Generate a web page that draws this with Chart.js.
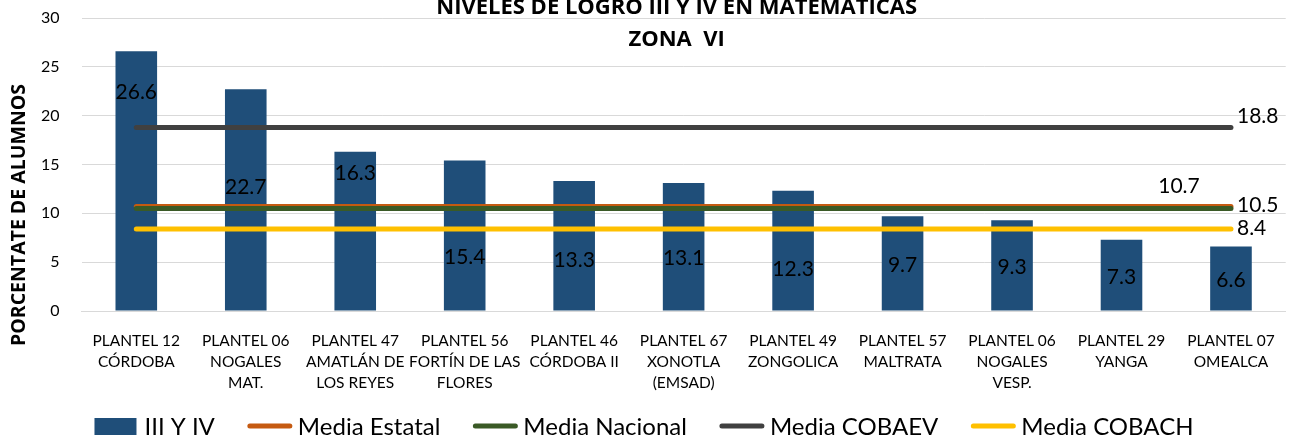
<!DOCTYPE html>
<html>
<head>
<meta charset="utf-8">
<script src="https://cdn.jsdelivr.net/npm/chart.js@4/dist/chart.umd.min.js"></script>
<style>
  html, body { margin: 0; padding: 0; background: #fff; }
  #wrap { width: 1294px; height: 439px; position: relative; }
</style>
</head>
<body>
<div id="wrap"><canvas id="chart"></canvas></div>
<script>
const FONT = "Lato, 'Open Sans', sans-serif";
const BOLD_FONT = "'Open Sans', Lato, sans-serif";

// Data
const planteles = [
  ['PLANTEL 12', 'CÓRDOBA'],
  ['PLANTEL 06', 'NOGALES', 'MAT.'],
  ['PLANTEL 47', 'AMATLÁN DE', 'LOS REYES'],
  ['PLANTEL 56', 'FORTÍN DE LAS', 'FLORES'],
  ['PLANTEL 46', 'CÓRDOBA II'],
  ['PLANTEL 67', 'XONOTLA', '(EMSAD)'],
  ['PLANTEL 49', 'ZONGOLICA'],
  ['PLANTEL 57', 'MALTRATA'],
  ['PLANTEL 06', 'NOGALES', 'VESP.'],
  ['PLANTEL 29', 'YANGA'],
  ['PLANTEL 07', 'OMEALCA'],
];
const nivelesIIIyIV = [26.6, 22.7, 16.3, 15.4, 13.3, 13.1, 12.3, 9.7, 9.3, 7.3, 6.6];
const mediaEstatal  = [10.7, 10.7, 10.7, 10.7, 10.7, 10.7, 10.7, 10.7, 10.7, 10.7, 10.7];
const mediaNacional = [10.5, 10.5, 10.5, 10.5, 10.5, 10.5, 10.5, 10.5, 10.5, 10.5, 10.5];
const mediaCobaev   = [18.8, 18.8, 18.8, 18.8, 18.8, 18.8, 18.8, 18.8, 18.8, 18.8, 18.8];
const mediaCobach   = [8.4, 8.4, 8.4, 8.4, 8.4, 8.4, 8.4, 8.4, 8.4, 8.4, 8.4];

// where each bar's value label sits, in axis units (the source places them by hand)
const barLabelAt = [22.4, 12.7, 14.1, 5.5, 5.2, 5.4, 4.3, 4.7, 4.5, 3.5, 3.2];

// offsets (px) of the value label at the end of each mean line
const lineLabelOffset = {
  'Media Estatal':  { dx: -52, dy: -20, align: 'center' },
  'Media Nacional': { dx: 6,   dy: -3,  align: 'left' },
  'Media COBAEV':   { dx: 6,   dy: -11, align: 'left' },
  'Media COBACH':   { dx: 6,   dy: -1,  align: 'left' },
};

const COLORS = {
  bar:      '#1F4E79',
  estatal:  '#C55A11',
  nacional: '#3A5A26',
  cobaev:   '#404040',
  cobach:   '#FFC000',
  grid:     '#D9D9D9',
};

function meanLine(label, data, color, order) {
  return {
    type: 'line',
    label,
    data,
    borderColor: color,
    backgroundColor: color,
    borderWidth: 5,
    borderCapStyle: 'round',
    pointRadius: 0,
    pointHoverRadius: 0,
    fill: false,
    order,
  };
}

// Plugins
const titlePlugin = {
  id: 'titleText',
  afterDraw(chart) {
    const ctx = chart.ctx;
    const cx = (chart.chartArea.left + chart.chartArea.right) / 2 - 7;
    ctx.save();
    ctx.fillStyle = '#000';
    ctx.textAlign = 'center';
    ctx.textBaseline = 'middle';
    ctx.font = `bold 22px ${BOLD_FONT}`;
    ctx.fillText('NIVELES DE LOGRO III Y IV EN MATEMÁTICAS', cx, 8);
    ctx.fillText('ZONA  VI', cx, 40);
    // y axis title, centred on the whole height like the source
    ctx.font = `bold 19.5px ${BOLD_FONT}`;
    ctx.translate(19, 215);
    ctx.rotate(-Math.PI / 2);
    ctx.fillText('PORCENTATE DE ALUMNOS', 0, 0);
    ctx.restore();
  }
};

const valueLabels = {
  id: 'valueLabels',
  afterDatasetsDraw(chart) {
    const ctx = chart.ctx;
    const y = chart.scales.y;
    ctx.save();
    ctx.fillStyle = '#000';
    ctx.font = `21px ${FONT}`;
    ctx.textBaseline = 'middle';
    chart.data.datasets.forEach((ds, i) => {
      const meta = chart.getDatasetMeta(i);
      if (ds.type === 'bar') {
        ctx.textAlign = 'center';
        meta.data.forEach((el, j) => {
          ctx.fillText(ds.data[j].toFixed(1), el.x, y.getPixelForValue(barLabelAt[j]));
        });
      } else {
        const last = meta.data[meta.data.length - 1];
        const off = lineLabelOffset[ds.label];
        ctx.textAlign = off.align;
        ctx.fillText(ds.data[ds.data.length - 1].toFixed(1), last.x + off.dx, last.y + off.dy);
      }
    });
    ctx.restore();
  }
};

const legendPlugin = {
  id: 'bottomLegend',
  afterDraw(chart) {
    const ctx = chart.ctx;
    const markW = 44, gapIn = 6, gapOut = 33, yMid = 426;
    ctx.save();
    ctx.font = `24px ${FONT}`;
    ctx.textBaseline = 'middle';
    ctx.textAlign = 'left';
    const items = chart.data.datasets.map(ds => ({
      ds, w: markW + gapIn + ctx.measureText(ds.label).width
    }));
    const total = items.reduce((s, it) => s + it.w, 0) + gapOut * (items.length - 1);
    let x = (chart.width - total) / 2 - 3;
    items.forEach(({ ds, w }) => {
      if (ds.type === 'bar') {
        ctx.fillStyle = ds.backgroundColor;
        ctx.fillRect(x, yMid - 8, markW - 2, 17);
      } else {
        ctx.strokeStyle = ds.borderColor;
        ctx.lineWidth = 5;
        ctx.lineCap = 'round';
        ctx.beginPath();
        ctx.moveTo(x + 2, yMid);
        ctx.lineTo(x + markW - 2, yMid);
        ctx.stroke();
      }
      ctx.fillStyle = '#000';
      ctx.fillText(ds.label, x + markW + gapIn, yMid + 1);
      x += w + gapOut;
    });
    ctx.restore();
  }
};

// Chart
const ctx = document.getElementById('chart').getContext('2d');
new Chart(ctx, {
  data: {
    labels: planteles,
    datasets: [
      {
        type: 'bar',
        label: 'III Y IV',
        data: nivelesIIIyIV,
        backgroundColor: COLORS.bar,
        borderWidth: 0,
        barPercentage: 0.38,
        categoryPercentage: 1,
        order: 5,
      },
      meanLine('Media Estatal',  mediaEstatal,  COLORS.estatal,  4),
      meanLine('Media Nacional', mediaNacional, COLORS.nacional, 3),
      meanLine('Media COBAEV',   mediaCobaev,   COLORS.cobaev,   2),
      meanLine('Media COBACH',   mediaCobach,   COLORS.cobach,   1),
    ],
  },
  options: {
    responsive: true,
    maintainAspectRatio: false,
    animation: false,
    layout: { padding: { left: 19, right: 5, top: 18, bottom: 27 } },
    plugins: {
      legend: { display: false },
      title: { display: false },
      tooltip: { enabled: false },
    },
    scales: {
      x: {
        offset: true,
        grid: { display: false, drawTicks: false },
        border: { display: true, color: COLORS.grid, width: 1 },
        ticks: {
          color: '#000',
          font: { family: FONT, size: 15.5, lineHeight: '21px' },
          padding: 19,
          maxRotation: 0,
          autoSkip: false,
        },
      },
      y: {
        min: 0,
        max: 30,
        grid: { color: COLORS.grid, drawTicks: false },
        border: { display: false },
        ticks: {
          stepSize: 5,
          color: '#000',
          font: { family: FONT, size: 16 },
          padding: 22,
        },
        // the tick padding would otherwise push the plot top down
        afterFit(scale) {
          scale.paddingTop = 10;
          scale.paddingBottom = 10;
        },
      },
    },
  },
  plugins: [titlePlugin, valueLabels, legendPlugin],
});
</script>
</body>
</html>
